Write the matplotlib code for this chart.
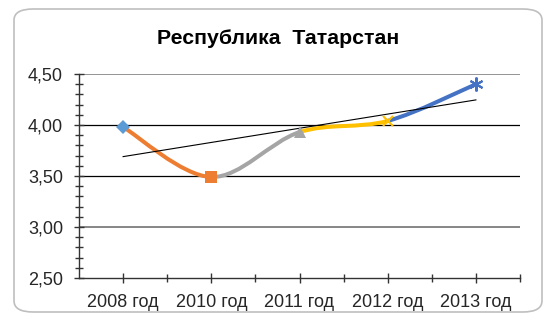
import numpy as np
import matplotlib
matplotlib.use('Agg')
import matplotlib.pyplot as plt
from matplotlib.path import Path
from matplotlib.patches import PathPatch, FancyBboxPatch
from matplotlib.ticker import FixedLocator, MultipleLocator, FuncFormatter

plt.rcParams['font.family'] = ['Liberation Sans', 'DejaVu Sans']

# data
years = ['2008 год', '2010 год', '2011 год', '2012 год', '2013 год']
values = [3.98, 3.49, 3.93, 4.04, 4.40]
seg_colors = ['#ED7D31', '#A5A5A5', '#FFC000', '#4472C4']
markers = ['D', 's', '^', 'x', (6, 2, 0)]
marker_colors = ['#5B9BD5', '#ED7D31', '#A5A5A5', '#FFC000', '#4472C4']
marker_sizes = [7, 9, 8, 7, 10]
gridlines = [3.0, 3.5, 4.0, 4.5]
grid_colors = ['#666666', '#000000', '#000000', '#777777']

W, H = 551, 318
fig = plt.figure(figsize=(W / 100, H / 100), dpi=100)

# rounded frame round the chart
frame = FancyBboxPatch((14 / W, 1 - 312 / H), (542 - 14) / W, (312 - 9) / H,
                       boxstyle='round,pad=0,rounding_size=0.035',
                       transform=fig.transFigure, facecolor='white',
                       edgecolor='#BFBFBF', linewidth=1.2, zorder=0)
fig.patches.append(frame)

ax = fig.add_axes([79 / W, 1 - 278 / H, (520 - 79) / W, (278 - 74) / H])
ax.set_zorder(3)
ax.patch.set_alpha(0)

x = np.arange(len(values)) + 0.5
y = np.array(values)

for g, c in zip(gridlines, grid_colors):
    ax.axhline(g, color=c, linewidth=1.1 if c != '#000000' else 0.9, zorder=1)

# smoothed segments (Catmull-Rom style bezier, like Excel's smoothed line)
px = np.concatenate([[x[0]], x, [x[-1]]])
py = np.concatenate([[y[0]], y, [y[-1]]])
for i in range(len(values) - 1):
    p0 = np.array([px[i], py[i]])
    p1 = np.array([px[i + 1], py[i + 1]])
    p2 = np.array([px[i + 2], py[i + 2]])
    p3 = np.array([px[i + 3], py[i + 3]])
    c1 = p1 + (p2 - p0) / 6
    c2 = p2 - (p3 - p1) / 6
    path = Path([p1, c1, c2, p2], [Path.MOVETO, Path.CURVE4, Path.CURVE4, Path.CURVE4])
    ax.add_patch(PathPatch(path, facecolor='none', edgecolor=seg_colors[i],
                           linewidth=2.9, capstyle='round', zorder=3))

# linear trend line
k, b = np.polyfit(np.arange(1, len(values) + 1), y, 1)
ax.plot(x, k * np.arange(1, len(values) + 1) + b, color='black', linewidth=0.8, zorder=4)

for xi, yi, m, mc, ms in zip(x, y, markers, marker_colors, marker_sizes):
    if m in ('x', (6, 2, 0)):
        ax.plot(xi, yi, marker=m, color=mc, markersize=ms, markeredgewidth=1.5,
                linestyle='none', zorder=5)
    else:
        ax.plot(xi, yi, marker=m, color=mc, markersize=ms, markeredgewidth=0,
                linestyle='none', zorder=5)

ax.set_xlim(0, len(values))
ax.set_ylim(2.5, 4.5)

ax.xaxis.set_major_locator(FixedLocator(x))
ax.xaxis.set_minor_locator(FixedLocator(np.arange(1, len(values) + 1)))
ax.set_xticklabels(years)
ax.yaxis.set_major_locator(MultipleLocator(0.5))
ax.yaxis.set_minor_locator(MultipleLocator(0.1))
ax.yaxis.set_major_formatter(FuncFormatter(lambda v, p: f'{v:.2f}'.replace('.', ',')))

ax.tick_params(axis='both', which='major', direction='inout', length=7, width=1,
               labelsize=13, labelcolor='#262626', color='#333333')
ax.tick_params(axis='both', which='minor', direction='inout', length=6, width=1,
               color='#333333')
ax.tick_params(axis='x', which='major', pad=8)
ax.tick_params(axis='y', which='major', pad=8)

for s in ['top', 'right']:
    ax.spines[s].set_visible(False)
for s in ['left', 'bottom']:
    ax.spines[s].set_color('#333333')
    ax.spines[s].set_linewidth(1)

fig.text(278 / W, 1 - 39 / H, 'Республика  Татарстан', ha='center', va='center',
         fontsize=15.3, fontweight='bold', color='black')

fig.savefig('out.png', dpi=100)
